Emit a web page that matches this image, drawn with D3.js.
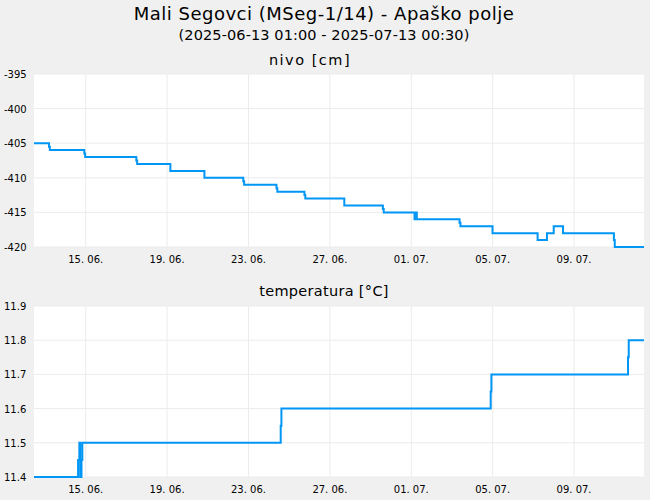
<!DOCTYPE html>
<html><head><meta charset="utf-8">
<script src="https://cdn.jsdelivr.net/npm/d3@7"></script>
<style>body{margin:0;background:#f0f0f0}svg{font-family:"DejaVu Sans",sans-serif}</style>
</head><body><svg id="c" width="650" height="500"></svg>
<script>
const title = "Mali Segovci (MSeg-1/14) - Apaško polje";
const subtitle = "(2025-06-13 01:00 - 2025-07-13 00:30)";
const domainStart = "2025-06-13T01:00", domainEnd = "2025-07-13T00:30";
const tickDates = ["2025-06-15T14:00","2025-06-19T14:00","2025-06-23T14:00","2025-06-27T14:00","2025-07-01T14:00","2025-07-05T14:00","2025-07-09T14:00"];
const levelTimes = ["2025-06-13T01:00","2025-06-13T18:40","2025-06-13T19:40","2025-06-13T20:40","2025-06-15T12:20","2025-06-15T13:20","2025-06-18T01:40","2025-06-18T02:40","2025-06-19T17:50","2025-06-21T10:00","2025-06-23T07:50","2025-06-23T08:50","2025-06-24T23:00","2025-06-25T00:00","2025-06-26T08:00","2025-06-26T09:00","2025-06-28T07:00","2025-06-30T04:30","2025-06-30T05:30","2025-07-01T17:50","2025-07-01T19:00","2025-07-01T20:30","2025-07-01T21:30","2025-07-03T22:55","2025-07-04T00:00","2025-07-05T13:50","2025-07-07T19:00","2025-07-07T20:00","2025-07-08T06:00","2025-07-08T13:00","2025-07-08T14:00","2025-07-09T00:00","2025-07-09T01:00","2025-07-09T21:40","2025-07-11T13:00","2025-07-11T14:00","2025-07-13T00:30"];
const levelValues = [-405,-405.5,-406,-406,-406.5,-407,-407.5,-408,-409,-410,-410.5,-411,-411.5,-412,-412.5,-413,-414,-414.5,-415,-416,-415,-416,-416,-416.5,-417,-418,-419,-419,-418,-418,-417,-417,-418,-418,-419,-420,-420];
const tempTimes = ["2025-06-13T01:00","2025-06-15T05:00","2025-06-15T06:30","2025-06-15T07:30","2025-06-15T09:00","2025-06-15T10:00","2025-06-25T04:00","2025-06-25T04:50","2025-07-05T11:40","2025-07-05T12:30","2025-07-12T05:40","2025-07-12T06:30","2025-07-13T00:30"];
const tempValues = [11.4,11.45,11.5,11.4,11.45,11.5,11.55,11.6,11.65,11.7,11.75,11.8,11.8];
const levelTicks = [-395,-400,-405,-410,-415,-420];
const tempTicks = [11.9,11.8,11.7,11.6,11.5,11.4];

const svg = d3.select("#c");
const P = d3.timeParse("%Y-%m-%dT%H:%M");
const x = d3.scaleTime().domain([P(domainStart),P(domainEnd)]).range([34,644]);
const col = "#0096f5";

svg.append("text").attr("x",324).attr("y",20).attr("text-anchor","middle").attr("font-size",18).attr("letter-spacing",0.5).text(title);
svg.append("text").attr("x",324).attr("y",40).attr("text-anchor","middle").attr("font-size",14.5).attr("letter-spacing",0.1).text(subtitle);

function panel(top,bottom,label,labelX,labelY,ls,ticks,times,vals,fmt){
  const y = d3.scaleLinear().domain([ticks[ticks.length-1],ticks[0]]).range([bottom,top]);
  svg.append("text").attr("x",labelX).attr("y",labelY).attr("text-anchor","middle").attr("font-size",14.5).attr("letter-spacing",ls).text(label);
  svg.append("rect").attr("x",34).attr("y",top).attr("width",610).attr("height",bottom-top).attr("fill","#fff");
  const g = svg.append("g");
  g.selectAll(".gy").data(ticks).join("line").attr("x1",34).attr("x2",644).attr("y1",d=>y(d)).attr("y2",d=>y(d)).attr("stroke","#ececec");
  g.selectAll(".gx").data(tickDates.map(P)).join("line").attr("y1",top).attr("y2",bottom).attr("x1",d=>x(d)).attr("x2",d=>x(d)).attr("stroke","#ececec");
  g.selectAll(".ty").data(ticks).join("text").attr("x",4).attr("y",d=>y(d)+4).attr("font-size",10).text(fmt);
  g.selectAll(".tx").data(tickDates.map(P)).join("text").attr("x",d=>x(d)).attr("y",bottom+16).attr("text-anchor","middle").attr("font-size",10).text(d3.timeFormat("%d. %m."));
  const data = times.map((t,i)=>[P(t),vals[i]]);
  svg.append("path").datum(data).attr("fill","none").attr("stroke",col).attr("stroke-width",2)
    .attr("d",d3.line().x(d=>x(d[0])).y(d=>y(d[1])).curve(d3.curveStepAfter));
}
panel(74,247,"nivo [cm]",310,65,1.5,levelTicks,levelTimes,levelValues,d=>d);
panel(306,477,"temperatura [°C]",324,296,0.3,tempTicks,tempTimes,tempValues,d=>d.toFixed(1));
</script></body></html>
